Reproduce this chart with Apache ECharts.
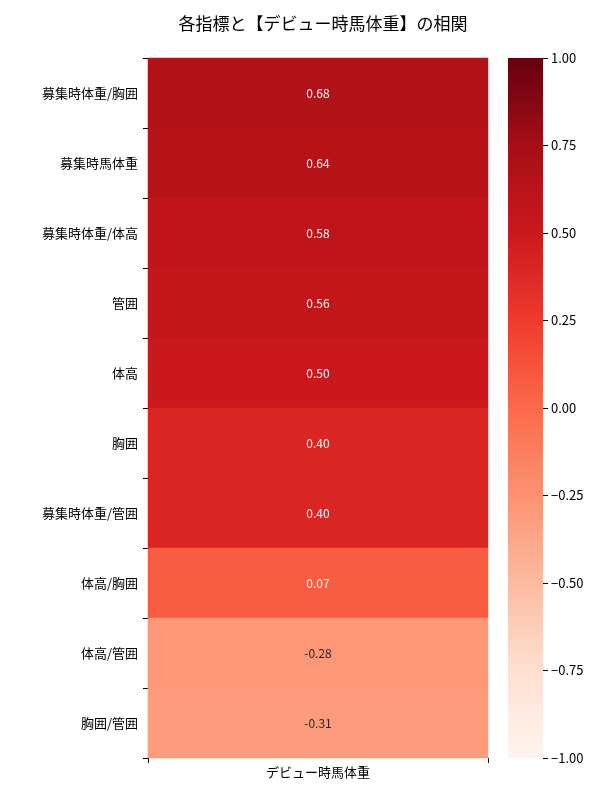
<!DOCTYPE html>
<html>
<head>
<meta charset="utf-8">
<script src="https://cdn.jsdelivr.net/npm/echarts@6/dist/echarts.min.js"></script>
<style>html,body{margin:0;padding:0;background:#fff}#chart{width:600px;height:800px}</style>
</head>
<body>
<div id="chart"></div>
<script>
const features = ["募集時体重/胸囲", "募集時馬体重", "募集時体重/体高", "管囲", "体高", "胸囲", "募集時体重/管囲", "体高/胸囲", "体高/管囲", "胸囲/管囲"];
const target = ["デビュー時馬体重"];
const corr = [0.68, 0.64, 0.58, 0.56, 0.50, 0.40, 0.40, 0.07, -0.28, -0.31];
const cbarTicks = [-1, -0.75, -0.5, -0.25, 0, 0.25, 0.5, 0.75, 1];
const reds = ["#fff5f0", "#fee0d2", "#fcbba1", "#fc9272", "#fb6a4a", "#ef3b2c", "#cb181d", "#a50f15", "#67000d"];

const font = "'Noto Sans CJK JP', 'Noto Sans', sans-serif";
const chart = echarts.init(document.getElementById("chart"));

const cells = corr.map((v, i) => ({
  value: [0, i, v],
  label: { color: v > 0 ? "#ffffff" : "#262626" }
}));

chart.setOption({
  animation: false,
  textStyle: { fontFamily: font },
  title: {
    text: "各指標と【デビュー時馬体重】の相関",
    left: 318, top: 10, textAlign: "center",
    textStyle: { fontSize: 17, fontWeight: "normal", color: "#000", fontFamily: font }
  },
  grid: [
    { left: 148, top: 58, width: 340, height: 700 },
    { left: 508, top: 58, width: 35, height: 700 }
  ],
  xAxis: [
    { type: "category", data: target, gridIndex: 0,
      axisLine: { show: false }, axisTick: { show: true, length: 5, lineStyle: { color: "#000" } },
      axisLabel: { color: "#000", fontSize: 13, margin: 8 } },
    { type: "category", data: [""], gridIndex: 1, show: false }
  ],
  yAxis: [
    { type: "category", data: features, inverse: true, gridIndex: 0,
      axisLine: { show: false }, axisTick: { show: true, length: 5, lineStyle: { color: "#000" } },
      axisLabel: { color: "#000", fontSize: 13, margin: 10 } },
    { type: "value", gridIndex: 1, min: -1, max: 1, interval: 0.25, position: "right",
      splitLine: { show: false },
      axisLine: { show: false }, axisTick: { show: true, length: 5, lineStyle: { color: "#000" } },
      axisLabel: { color: "#000", fontSize: 13, margin: 8,
        formatter: v => (v < 0 ? "\u2212" + Math.abs(v).toFixed(2) : v.toFixed(2)) } }
  ],
  visualMap: { show: false, min: -1, max: 1, seriesIndex: 0, inRange: { color: reds } },
  graphic: [{
    type: "rect", left: 508, top: 58, z: -1,
    shape: { width: 35, height: 700 },
    style: { fill: new echarts.graphic.LinearGradient(0, 1, 0, 0,
      reds.map((c, i) => ({ offset: i / (reds.length - 1), color: c }))) }
  }],
  series: [{
    type: "heatmap", xAxisIndex: 0, yAxisIndex: 0, data: cells,
    label: { show: true, fontSize: 12, formatter: p => p.value[2].toFixed(2) },
    itemStyle: { borderWidth: 0 }
  }]
});
</script>
</body>
</html>
